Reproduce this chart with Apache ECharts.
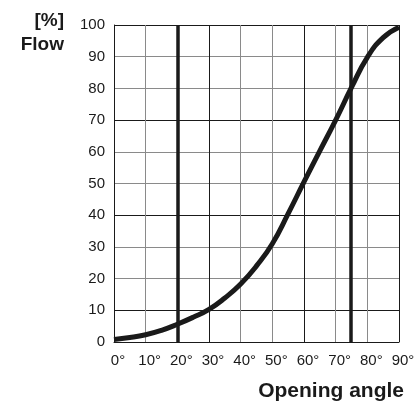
<!DOCTYPE html>
<html>
<head>
<meta charset="utf-8">
<script src="https://cdn.jsdelivr.net/npm/echarts@6/dist/echarts.min.js"></script>
<style>
  html, body { margin: 0; padding: 0; background: #fff; }
  #chart { width: 420px; height: 403px; }
</style>
</head>
<body>
<div id="chart"></div>
<script>
// opening angle (deg) vs flow (%)
const angles = [0, 5, 10, 15, 20, 25, 30, 35, 40, 45, 50, 55, 60, 65, 70, 75, 80, 85, 90];
const flow = [0.8, 1.4, 2.3, 3.7, 5.6, 7.8, 10.3, 13.9, 18.3, 24, 31, 40.5, 50.5, 60.3, 70, 80.3, 89.8, 96, 99.3];
const markerAngles = [20, 74.7];
const yTicks = [0, 10, 20, 30, 40, 50, 60, 70, 80, 90, 100];

const dark = '#1a1a1a';
const grey = '#8a8a8a';
const font = '"Liberation Sans", Arial, Helvetica, sans-serif';

let chart = echarts.init(document.getElementById('chart'));

let curve = angles.map(function (a, i) { return [a, flow[i]]; });

chart.setOption({
    animation: false,
    grid: {left: 114, right: 21, top: 25, bottom: 61},
    xAxis: {
        type: 'value', min: 0, max: 90, interval: 10,
        axisLine: {lineStyle: {color: dark, width: 1}},
        axisTick: {show: false},
        axisLabel: {
            formatter: '{value}°', color: dark, fontSize: 15, fontFamily: font,
            margin: 11, padding: [0, 0, 0, 8]
        },
        splitLine: {show: true, lineStyle: {color: [dark, grey, grey], width: 1}}
    },
    yAxis: {
        type: 'value', min: yTicks[0], max: yTicks[yTicks.length - 1], interval: 10,
        axisLine: {show: true, lineStyle: {color: dark, width: 1}},
        axisTick: {show: false},
        axisLabel: {color: dark, fontSize: 15, fontFamily: font, margin: 9},
        splitLine: {show: true, lineStyle: {color: [grey, dark, grey], width: 1}}
    },
    series: [{
        type: 'line',
        data: curve,
        smooth: 0.5,
        showSymbol: false,
        lineStyle: {color: dark, width: 5},
        markLine: {
            silent: true,
            symbol: 'none',
            label: {show: false},
            lineStyle: {color: dark, width: 3.5, type: 'solid'},
            data: markerAngles.map(function (a) { return {xAxis: a}; })
        },
        z: 3
    }],
    graphic: [
        {type: 'text', style: {text: '[%]', x: 64, y: 21, textAlign: 'right', textVerticalAlign: 'middle',
            font: 'bold 19px ' + font, fill: dark}},
        {type: 'text', style: {text: 'Flow', x: 64, y: 45, textAlign: 'right', textVerticalAlign: 'middle',
            font: 'bold 19px ' + font, fill: dark}},
        {type: 'text', style: {text: 'Opening angle', x: 404, y: 391, textAlign: 'right', textVerticalAlign: 'middle',
            font: 'bold 21px ' + font, fill: dark}}
    ]
});

window.onresize = function () {
    chart.resize();
};
</script>
</body>
</html>
